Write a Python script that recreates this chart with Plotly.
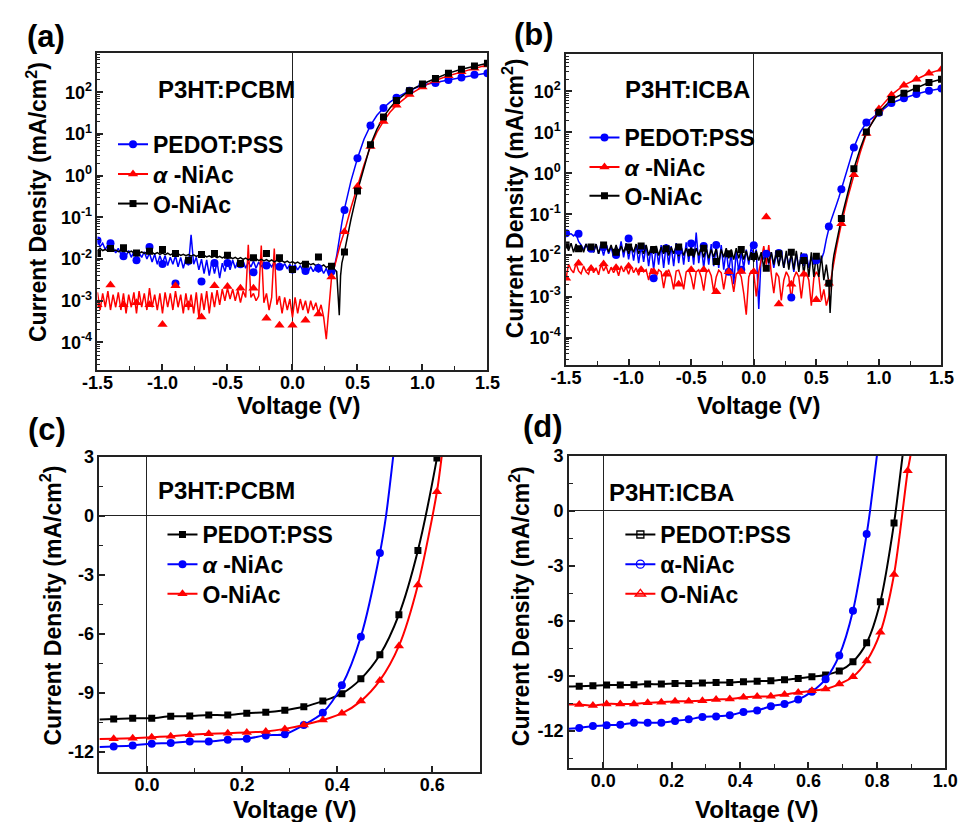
import numpy as np
import plotly.graph_objects as go

FONT = "Liberation Sans, Arial, Helvetica, sans-serif"
BLUE, RED, BLACK = "#0000FF", "#FF0000", "#000000"

# ---------------- (a) P3HT:PCBM dark J-V, log scale ----------------
V_SWEEP_A = np.round(np.arange(-1.50, 0.3001, 0.02), 2)          # 91 sweep points
V_RISE_A = [0.32, 0.34, 0.35, 0.36, 0.37, 0.38, 0.40, 0.45, 0.50, 0.55, 0.60,
            0.65, 0.70, 0.75, 0.80, 0.90, 1.00, 1.10, 1.20, 1.30, 1.40, 1.50]
V_MARK = np.round(np.arange(-1.5, 1.5001, 0.1), 1)                # 31 marker points

A_PEDOT_SWEEP = [0.028, 0.020, 0.024, 0.017, 0.022, 0.016, 0.019, 0.014, 0.018, 0.013,
                 0.016, 0.012, 0.016, 0.011, 0.015, 0.010, 0.014, 0.011, 0.015, 0.010,
                 0.014, 0.0085, 0.013, 0.0075, 0.012, 0.0080, 0.012, 0.0070, 0.011, 0.0075,
                 0.012, 0.0065, 0.011, 0.0060, 0.010, 0.0070, 0.038, 0.0075, 0.011, 0.0055,
                 0.010, 0.0045, 0.0095, 0.0040, 0.0090, 0.0045, 0.0085, 0.0035, 0.0080, 0.0050,
                 0.0090, 0.0055, 0.0095, 0.0060, 0.0090, 0.0065, 0.0090, 0.0060, 0.0085, 0.0065,
                 0.0090, 0.0060, 0.0085, 0.0065, 0.0085, 0.0060, 0.0080, 0.0065, 0.0085, 0.0060,
                 0.0080, 0.0062, 0.0078, 0.0058, 0.0075, 0.0058, 0.0072, 0.0055, 0.0070, 0.0052,
                 0.0068, 0.0050, 0.0066, 0.0050, 0.0065, 0.0048, 0.0062, 0.0045, 0.0060, 0.0040,
                 0.0055]
A_PEDOT_RISE = [0.0060, 0.012, 0.020, 0.032, 0.050, 0.075, 0.16, 0.75, 2.6, 7.5, 16,
                28, 42, 58, 74, 109, 149, 168, 196, 227, 262, 290]
A_PEDOT_MARK = [0.028, 0.024, 0.0117, 0.0093, 0.0195, 0.0076, 0.0026, 0.009, 0.0029, 0.008,
                0.008, 0.0075, 0.0048, 0.007, 0.0065, 0.0056, 0.0052, 0.006, 0.005, 0.15,
                2.6, 16, 42, 74, 109, 149, 166, 196, 227, 262, 287]

A_ALPHA_SWEEP = [0.0016, 0.0006, 0.0015, 0.0007, 0.0017, 0.0006, 0.0014, 0.0007, 0.0016, 0.0006,
                 0.0015, 0.0005, 0.0014, 0.0007, 0.0016, 0.0005, 0.0017, 0.0007, 0.0015, 0.0006,
                 0.0020, 0.0007, 0.0014, 0.0006, 0.0015, 0.0005, 0.0016, 0.0007, 0.0015, 0.0006,
                 0.0017, 0.0007, 0.0014, 0.0005, 0.0015, 0.0006, 0.0014, 0.0005, 0.0016, 0.0004,
                 0.0015, 0.0006, 0.0017, 0.0005, 0.0016, 0.0007, 0.0018, 0.0008, 0.0019, 0.0010,
                 0.0020, 0.0011, 0.0019, 0.0010, 0.0018, 0.0009, 0.0017, 0.0012, 0.022, 0.0012,
                 0.0015, 0.0010, 0.0013, 0.021, 0.0009, 0.0015, 0.0006, 0.0012, 0.018, 0.0008,
                 0.0013, 0.0005, 0.0012, 0.0006, 0.0011, 0.0004, 0.0012, 0.0005, 0.0011, 0.0006,
                 0.0010, 0.0005, 0.0010, 0.0006, 0.0009, 0.0005, 0.0008, 0.0004, 0.00012, 0.0008,
                 0.0035]
A_ALPHA_RISE = [0.006, 0.011, 0.015, 0.019, 0.024, 0.030, 0.045, 0.17, 0.55, 1.8, 5.0,
                11, 20, 33, 49, 88, 134, 192, 250, 312, 374, 449]
A_ALPHA_MARK = [0.0008, 0.0024, 0.0008, 0.0009, 0.0008, 0.00027, 0.0023, 0.0008, 0.00041, 0.0023,
                0.0022, 0.002, 0.002, 0.00038, 0.00026, 0.00026, 0.00034, 0.00048, 0.0037, 0.045,
                0.55, 5.0, 20, 49, 88, 134, 192, 250, 312, 374, 449]

A_ONIAC_SWEEP = [0.016, 0.018, 0.016, 0.017, 0.0155, 0.017, 0.0155, 0.0165, 0.015, 0.016,
                 0.0148, 0.0158, 0.0145, 0.0155, 0.014, 0.015, 0.0138, 0.0148, 0.0136, 0.0146,
                 0.0135, 0.0145, 0.0132, 0.0142, 0.013, 0.014, 0.0128, 0.0138, 0.0126, 0.0135,
                 0.0124, 0.0133, 0.0122, 0.013, 0.012, 0.0128, 0.0118, 0.0126, 0.0116, 0.0124,
                 0.0114, 0.0122, 0.0112, 0.012, 0.011, 0.0118, 0.0108, 0.0116, 0.0106, 0.0114,
                 0.0104, 0.0112, 0.0102, 0.011, 0.010, 0.0108, 0.0098, 0.0106, 0.0096, 0.0104,
                 0.0094, 0.0102, 0.0092, 0.0099, 0.009, 0.0097, 0.0088, 0.0095, 0.0086, 0.0093,
                 0.0085, 0.0091, 0.0083, 0.0089, 0.0081, 0.0087, 0.0079, 0.0085, 0.0077, 0.0083,
                 0.0075, 0.0081, 0.0073, 0.0078, 0.0070, 0.0075, 0.0067, 0.0072, 0.0063, 0.0068,
                 0.0060]
A_ONIAC_RISE = [0.0058, 0.0050, 0.0015, 0.00045, 0.0040, 0.0080, 0.015, 0.09, 0.43, 1.6, 5.5,
                13, 25.6, 42, 63, 109, 158, 214, 287, 357, 428, 495]
A_ONIAC_MARK = [0.0135, 0.0178, 0.0187, 0.014, 0.0153, 0.017, 0.0135, 0.0093, 0.0128, 0.0135,
                0.0123, 0.0078, 0.0107, 0.0135, 0.0108, 0.0056, 0.0075, 0.0112, 0.0067, 0.0148,
                0.43, 5.5, 25.6, 63, 109, 158, 214, 287, 357, 428, 495]

# ---------------- (b) P3HT:ICBA dark J-V, log scale ----------------
V_SWEEP_B = np.round(np.arange(-1.50, 0.5601, 0.02), 2)          # 104 sweep points
V_RISE_B = [0.58, 0.60, 0.61, 0.62, 0.63, 0.64, 0.65, 0.66, 0.68, 0.70,
            0.75, 0.80, 0.85, 0.90, 1.00, 1.10, 1.20, 1.30, 1.40, 1.50]

B_PEDOT_SWEEP = [0.035, 0.033, 0.034, 0.030, 0.034, 0.022, 0.018, 0.014, 0.019, 0.013,
                 0.018, 0.012, 0.019, 0.011, 0.017, 0.010, 0.018, 0.011, 0.016, 0.009,
                 0.017, 0.010, 0.022, 0.009, 0.020, 0.008, 0.018, 0.0075, 0.019, 0.0065,
                 0.017, 0.007, 0.018, 0.0055, 0.016, 0.0045, 0.017, 0.006, 0.018, 0.005,
                 0.019, 0.006, 0.017, 0.0055, 0.020, 0.0065, 0.018, 0.006, 0.021, 0.007,
                 0.019, 0.006, 0.036, 0.0065, 0.018, 0.005, 0.017, 0.006, 0.019, 0.0055,
                 0.016, 0.005, 0.018, 0.0045, 0.014, 0.004, 0.012, 0.002, 0.013, 0.004,
                 0.012, 0.005, 0.014, 0.006, 0.016, 0.0095, 0.014, 0.0005, 0.011, 0.008,
                 0.013, 0.006, 0.012, 0.005, 0.011, 0.006, 0.012, 0.005, 0.011, 0.006,
                 0.010, 0.004, 0.011, 0.005, 0.010, 0.0055, 0.011, 0.005, 0.0095, 0.006,
                 0.009, 0.007, 0.008, 0.012]
B_PEDOT_RISE = [0.025, 0.05, 0.06, 0.075, 0.09, 0.11, 0.14, 0.17, 0.26, 0.41,
                1.4, 4.3, 10, 17.4, 30, 52, 68, 86, 104, 118]
B_PEDOT_MARK = [0.035, 0.034, 0.0147, 0.016, 0.0103, 0.026, 0.016, 0.0028, 0.015, 0.013,
                0.0195, 0.017, 0.018, 0.004, 0.0045, 0.0178, 0.011, 0.0115, 0.00095, 0.009,
                0.0077, 0.051, 0.41, 4.3, 17.4, 30, 52, 68, 86, 104, 118]

B_ALPHA_SWEEP = [0.0028, 0.0062, 0.0045, 0.0038, 0.0065, 0.0042, 0.0036, 0.0055, 0.0040, 0.0035,
                 0.0058, 0.0038, 0.0050, 0.0034, 0.0062, 0.0042, 0.0055, 0.0036, 0.0052, 0.0038,
                 0.0050, 0.0032, 0.0056, 0.0040, 0.0052, 0.0035, 0.0055, 0.0038, 0.0050, 0.0033,
                 0.0052, 0.0040, 0.0045, 0.0025, 0.0048, 0.0042, 0.0030, 0.0045, 0.0040, 0.0016,
                 0.0035, 0.0045, 0.0030, 0.0015, 0.0042, 0.0044, 0.0028, 0.0015, 0.0040, 0.0045,
                 0.0030, 0.0015, 0.0040, 0.0045, 0.0030, 0.0014, 0.0038, 0.0045, 0.0032, 0.0013,
                 0.0030, 0.0044, 0.0038, 0.0015, 0.0035, 0.0045, 0.0030, 0.0013, 0.0035, 0.0040,
                 0.0030, 0.0012, 0.00036, 0.0030, 0.0042, 0.0038, 0.0010, 0.0040, 0.0080, 0.017,
                 0.0060, 0.018, 0.0035, 0.0012, 0.0038, 0.0030, 0.0008, 0.0025, 0.0040, 0.0030,
                 0.0008, 0.0028, 0.0040, 0.0030, 0.0009, 0.0030, 0.0038, 0.0025, 0.0006, 0.0028,
                 0.0040, 0.0030, 0.0008, 0.0015]
B_ALPHA_RISE = [0.0006, 0.001, 0.002, 0.003, 0.005, 0.008, 0.011, 0.015, 0.03, 0.059,
                0.25, 0.93, 3.2, 9.4, 37, 82, 142, 198, 276, 344]
B_ALPHA_MARK = [0.0028, 0.0065, 0.0048, 0.0062, 0.005, 0.0055, 0.0045, 0.004, 0.0035, 0.002,
                0.0045, 0.0045, 0.0013, 0.004, 0.0041, 0.004, 0.087, 0.00066, 0.002, 0.0035,
                0.00083, 0.0021, 0.059, 0.93, 9.4, 37, 82, 142, 198, 276, 344]

B_ONIAC_SWEEP = [0.019, 0.013, 0.020, 0.012, 0.019, 0.013, 0.018, 0.012, 0.019, 0.013,
                 0.018, 0.012, 0.019, 0.011, 0.018, 0.013, 0.019, 0.012, 0.018, 0.011,
                 0.018, 0.011, 0.017, 0.012, 0.018, 0.011, 0.017, 0.012, 0.019, 0.011,
                 0.017, 0.011, 0.018, 0.010, 0.016, 0.011, 0.017, 0.010, 0.016, 0.011,
                 0.017, 0.010, 0.016, 0.011, 0.017, 0.0095, 0.016, 0.010, 0.015, 0.0095,
                 0.016, 0.009, 0.015, 0.010, 0.016, 0.009, 0.015, 0.0085, 0.014, 0.009,
                 0.015, 0.0065, 0.014, 0.009, 0.015, 0.0085, 0.014, 0.008, 0.015, 0.0085,
                 0.014, 0.008, 0.013, 0.0075, 0.012, 0.007, 0.013, 0.0075, 0.012, 0.005,
                 0.013, 0.0065, 0.012, 0.006, 0.013, 0.0055, 0.012, 0.005, 0.013, 0.0045,
                 0.012, 0.0045, 0.013, 0.004, 0.012, 0.0035, 0.011, 0.003, 0.012, 0.003,
                 0.011, 0.003, 0.010, 0.0025]
B_ONIAC_RISE = [0.006, 0.0021, 0.0004, 0.002, 0.006, 0.010, 0.015, 0.020, 0.040, 0.08,
                0.33, 1.3, 4.0, 10.3, 31, 63, 90, 120, 164, 198]
B_ONIAC_MARK = [0.018, 0.0147, 0.016, 0.018, 0.012, 0.016, 0.017, 0.014, 0.0145, 0.016,
                0.012, 0.015, 0.0071, 0.011, 0.014, 0.0095, 0.0049, 0.011, 0.012, 0.0075,
                0.0096, 0.0021, 0.08, 1.3, 10.3, 31, 63, 90, 120, 164, 198]

# ---------------- (c) P3HT:PCBM illuminated J-V ----------------
V_C = [-0.07, -0.03, 0.01, 0.05, 0.09, 0.13, 0.17, 0.21, 0.25, 0.29,
       0.33, 0.37, 0.41, 0.45, 0.49, 0.53, 0.57, 0.61]
C_PEDOT = [-10.33, -10.29, -10.29, -10.19, -10.18, -10.13, -10.13, -10.03, -9.99, -9.88,
           -9.71, -9.42, -9.04, -8.29, -7.07, -5.03, -1.77, 2.92]
C_ALPHA = [-11.72, -11.67, -11.58, -11.55, -11.47, -11.47, -11.38, -11.33, -11.16, -11.10,
           -10.63, -10.01, -8.62, -6.15, -1.90]
C_ONIAC = [-11.33, -11.30, -11.26, -11.21, -11.13, -11.08, -11.05, -11.01, -10.96, -10.83,
           -10.63, -10.38, -10.04, -9.42, -8.37, -6.62, -3.52, 1.21]
# curve ends beyond the marked points (left edge and above the top)
C_PEDOT_START, C_PEDOT_END_V, C_PEDOT_END_J = -10.35, [0.62], [4.4]
C_ALPHA_START, C_ALPHA_END_V, C_ALPHA_END_J = -11.75, [0.503, 0.518, 0.53], [0.0, 3.0, 5.5]
C_ONIAC_START, C_ONIAC_END_V, C_ONIAC_END_J = -11.35, [0.62, 0.63], [3.0, 5.2]

# ---------------- (d) P3HT:ICBA illuminated J-V ----------------
V_D = [-0.07, -0.03, 0.01, 0.05, 0.09, 0.13, 0.17, 0.21, 0.25, 0.29, 0.33, 0.37, 0.41,
       0.45, 0.49, 0.53, 0.57, 0.61, 0.65, 0.69, 0.73, 0.77, 0.81, 0.85, 0.89]
D_PEDOT = [-9.57, -9.54, -9.50, -9.50, -9.48, -9.45, -9.45, -9.41, -9.41, -9.39, -9.36, -9.36,
           -9.32, -9.29, -9.27, -9.21, -9.14, -9.05, -8.95, -8.73, -8.23, -7.20, -4.96, -0.68]
D_ALPHA = [-11.84, -11.73, -11.69, -11.66, -11.55, -11.55, -11.55, -11.46, -11.37, -11.24, -11.21,
           -11.15, -10.97, -10.89, -10.65, -10.53, -10.29, -9.86, -9.18, -7.89, -5.46, -1.28]
D_ONIAC = [-10.56, -10.62, -10.53, -10.53, -10.53, -10.47, -10.44, -10.38, -10.38, -10.35, -10.29,
           -10.26, -10.17, -10.13, -10.11, -10.02, -9.90, -9.81, -9.72, -9.45, -9.05, -8.19,
           -6.63, -3.48, 2.17]
D_PEDOT_START, D_PEDOT_END_V, D_PEDOT_END_J = -9.58, [0.875, 0.885], [3.0, 4.5]
D_ALPHA_START, D_ALPHA_END_V, D_ALPHA_END_J = -11.88, [0.78, 0.80, 0.81], [0.0, 3.0, 4.6]
D_ONIAC_START, D_ONIAC_END_V, D_ONIAC_END_J = -10.56, [0.898, 0.905], [3.0, 4.3]

LOG_TICKS = [1e-4, 1e-3, 1e-2, 1e-1, 1, 10, 100]
LOG_TICKTEXT = ["10<sup>-4</sup>", "10<sup>-3</sup>", "10<sup>-2</sup>", "10<sup>-1</sup>",
                "10<sup>0</sup>", "10<sup>1</sup>", "10<sup>2</sup>"]

# legend rows: (label, colour, symbol, size, open marker)
ALPHA_IT = "<i>α</i> -NiAc"
LEGEND_ROWS = [
    ("PEDOT:PSS", BLUE, "circle", 8, False), (ALPHA_IT, RED, "triangle-up", 9, False),
    ("O-NiAc", BLACK, "square", 7, False),                                   # (a)
    ("PEDOT:PSS", BLUE, "circle", 8, False), (ALPHA_IT, RED, "triangle-up", 9, False),
    ("O-NiAc", BLACK, "square", 7, False),                                   # (b)
    ("PEDOT:PSS", BLACK, "square", 7, False), (ALPHA_IT, BLUE, "circle", 8, False),
    ("O-NiAc", RED, "triangle-up", 9, False),                                # (c)
    ("PEDOT:PSS", BLACK, "square-open", 7, True), ("α-NiAc", BLUE, "circle-open", 8, True),
    ("O-NiAc", RED, "triangle-up-open", 9, True),                            # (d)
]
# legend row anchor (left x, centre y) in pixels
LEGEND_POS = [(100, 136), (100, 166), (100, 196),
              (586, 129), (586, 159), (586, 188),
              (151, 531), (151, 561), (151, 591),
              (623, 531), (623, 561), (623, 591)]

# ================= figure =================
fig = go.Figure()


def add_line(x, y, color, xa, ya, width=1.5, shape="linear"):
    fig.add_trace(go.Scatter(x=list(x), y=list(y), mode="lines", xaxis=xa, yaxis=ya,
                             line=dict(color=color, width=width, shape=shape, smoothing=0.8),
                             showlegend=False, hoverinfo="skip"))


def add_markers(x, y, color, symbol, size, xa, ya):
    fig.add_trace(go.Scatter(x=list(x), y=list(y), mode="markers", xaxis=xa, yaxis=ya,
                             marker=dict(color=color, symbol=symbol, size=size,
                                         line=dict(width=0)),
                             showlegend=False, hoverinfo="skip"))


# (a)
va = list(V_SWEEP_A) + V_RISE_A
add_line(va, A_PEDOT_SWEEP + A_PEDOT_RISE, BLUE, "x", "y")
add_line(va, A_ALPHA_SWEEP + A_ALPHA_RISE, RED, "x", "y")
add_line(va, A_ONIAC_SWEEP + A_ONIAC_RISE, BLACK, "x", "y")
add_markers(V_MARK, A_PEDOT_MARK, BLUE, "circle", 8, "x", "y")
add_markers(V_MARK, A_ALPHA_MARK, RED, "triangle-up", 9, "x", "y")
add_markers(V_MARK, A_ONIAC_MARK, BLACK, "square", 7, "x", "y")

# (b)
vb = list(V_SWEEP_B) + V_RISE_B
add_line(vb, B_PEDOT_SWEEP + B_PEDOT_RISE, BLUE, "x2", "y2")
add_line(vb, B_ALPHA_SWEEP + B_ALPHA_RISE, RED, "x2", "y2")
add_line(vb, B_ONIAC_SWEEP + B_ONIAC_RISE, BLACK, "x2", "y2")
add_markers(V_MARK, B_PEDOT_MARK, BLUE, "circle", 8, "x2", "y2")
add_markers(V_MARK, B_ALPHA_MARK, RED, "triangle-up", 9, "x2", "y2")
add_markers(V_MARK, B_ONIAC_MARK, BLACK, "square", 7, "x2", "y2")

# (c)
for vals, start, ev, ej, color, sym, size in [
        (C_PEDOT, C_PEDOT_START, C_PEDOT_END_V, C_PEDOT_END_J, BLACK, "square", 7),
        (C_ALPHA, C_ALPHA_START, C_ALPHA_END_V, C_ALPHA_END_J, BLUE, "circle", 8),
        (C_ONIAC, C_ONIAC_START, C_ONIAC_END_V, C_ONIAC_END_J, RED, "triangle-up", 9)]:
    vx = V_C[:len(vals)]
    add_line([-0.1] + vx + ev, [start] + vals + ej, color, "x3", "y3", 2, "spline")
    add_markers(vx, vals, color, sym, size, "x3", "y3")

# (d)
for vals, start, ev, ej, color, sym, size in [
        (D_PEDOT, D_PEDOT_START, D_PEDOT_END_V, D_PEDOT_END_J, BLACK, "square", 7),
        (D_ALPHA, D_ALPHA_START, D_ALPHA_END_V, D_ALPHA_END_J, BLUE, "circle", 8),
        (D_ONIAC, D_ONIAC_START, D_ONIAC_END_V, D_ONIAC_END_J, RED, "triangle-up", 9)]:
    vx = V_D[:len(vals)]
    add_line([-0.1] + vx + ev, [start] + vals + ej, color, "x4", "y4", 2, "spline")
    add_markers(vx, vals, color, sym, size, "x4", "y4")

# legend entries (legend-only traces, one legend per row)
for i, (name, color, sym, size, is_open) in enumerate(LEGEND_ROWS):
    lid = "legend" if i == 0 else f"legend{i + 1}"
    mk = dict(color=color, symbol=sym, size=size)
    if is_open:
        mk["line"] = dict(color=color, width=1.3)
    fig.add_trace(go.Scatter(x=[None], y=[None], mode="lines+markers", name=name,
                             line=dict(color=color, width=2), marker=mk, legend=lid))

# ================= axes =================
W, H = 970, 822
TICKFONT = dict(family=FONT, size=18, color="black", weight="bold")


def base_axis(**kw):
    d = dict(showline=True, linecolor="#222", linewidth=1.5, mirror=True,
             ticks="inside", ticklen=6, tickwidth=1.5, tickcolor="#222",
             showgrid=False, zeroline=False, tickfont=TICKFONT, fixedrange=True)
    d.update(kw)
    return d


def dom_x(x0, x1):
    return [x0 / W, x1 / W]


def dom_y(top, bottom):
    return [1 - bottom / H, 1 - top / H]


minor_log = [k * 10.0 ** n for n in range(-5, 3) for k in range(2, 10)]
minor_log = [v for v in minor_log if 2.2e-5 < v < 850]

XV = [-1.5, -1.0, -0.5, 0.0, 0.5, 1.0, 1.5]
XT = ["-1.5", "-1.0", "-0.5", "0.0", "0.5", "1.0", "1.5"]
XMIN = [-1.25, -0.75, -0.25, 0.25, 0.75, 1.25]

ZL = dict(zeroline=True, zerolinecolor="#222", zerolinewidth=1)
XS = dict(ticklabelstandoff=-4)


def minor(vals, ln=4, w=1.2):
    return dict(tickmode="array", tickvals=vals, ticks="inside", ticklen=ln,
                tickwidth=w, tickcolor="#222", showgrid=False)


layout = dict(
    width=W, height=H, margin=dict(l=0, r=0, t=0, b=0), autosize=False,
    paper_bgcolor="white", plot_bgcolor="white",
    font=dict(family=FONT, color="black"),
    xaxis=base_axis(domain=dom_x(84, 486), anchor="y", range=[-1.5, 1.5],
                    tickmode="array", tickvals=XV, ticktext=XT, minor=minor(XMIN), **ZL, **XS),
    yaxis=base_axis(domain=dom_y(44, 364), anchor="x", type="log", range=[-4.65, 2.93],
                    tickmode="array", tickvals=LOG_TICKS, ticktext=LOG_TICKTEXT,
                    minor=minor(minor_log, 3, 1)),
    xaxis2=base_axis(domain=dom_x(567, 954), anchor="y2", range=[-1.5, 1.5],
                     tickmode="array", tickvals=XV, ticktext=XT, minor=minor(XMIN), **ZL, **XS),
    yaxis2=base_axis(domain=dom_y(45, 359), anchor="x2", type="log", range=[-4.66, 2.9],
                     tickmode="array", tickvals=LOG_TICKS, ticktext=LOG_TICKTEXT,
                     minor=minor(minor_log, 3, 1)),
    xaxis3=base_axis(domain=dom_x(86, 478), anchor="y3", range=[-0.1, 0.7],
                     tickmode="array", tickvals=[0, 0.2, 0.4, 0.6],
                     ticktext=["0.0", "0.2", "0.4", "0.6"],
                     minor=minor([0.1, 0.3, 0.5]), **ZL, **XS),
    yaxis3=base_axis(domain=dom_y(452, 771), anchor="x3", range=[-13, 3],
                     tickmode="array", tickvals=[3, 0, -3, -6, -9, -12],
                     ticktext=["3", "0", "-3", "-6", "-9", "-12"],
                     minor=minor([1.5, -1.5, -4.5, -7.5, -10.5]), **ZL),
    xaxis4=base_axis(domain=dom_x(570, 958), anchor="y4", range=[-0.1, 1.0],
                     tickmode="array", tickvals=[0, 0.2, 0.4, 0.6, 0.8, 1.0],
                     ticktext=["0.0", "0.2", "0.4", "0.6", "0.8", "1.0"],
                     minor=minor([0.1, 0.3, 0.5, 0.7, 0.9]), **ZL, **XS),
    yaxis4=base_axis(domain=dom_y(451, 767), anchor="x4", range=[-14, 3],
                     tickmode="array", tickvals=[3, 0, -3, -6, -9, -12],
                     ticktext=["3", "0", "-3", "-6", "-9", "-12"],
                     minor=minor([1.5, -1.5, -4.5, -7.5, -10.5, -13.5]), **ZL),
)

LEGFONT = dict(family=FONT, size=23, color="black", weight="bold")
for i, (lx, ly) in enumerate(LEGEND_POS):
    lid = "legend" if i == 0 else f"legend{i + 1}"
    layout[lid] = dict(x=lx / W, y=1 - ly / H, xanchor="left", yanchor="middle",
                       bgcolor="rgba(0,0,0,0)", borderwidth=0, font=LEGFONT,
                       itemclick=False, itemdoubleclick=False)

fig.update_layout(**layout)


def ann(text, xpx, ypx, size, angle=0):
    fig.add_annotation(text=text, x=xpx / W, y=1 - ypx / H, xref="paper", yref="paper",
                       xanchor="center", yanchor="middle", showarrow=False, textangle=angle,
                       font=dict(family=FONT, size=size, color="black", weight="bold"))


# panel labels
ann("(a)", 31, 27, 31)
ann("(b)", 534, 25, 31)
ann("(c)", 32, 425, 31)
ann("(d)", 543, 422, 31)
# sample labels
ann("P3HT:PCBM", 217, 80, 24)
ann("P3HT:ICBA", 692, 80, 24)
ann("P3HT:PCBM", 217, 486, 24)
ann("P3HT:ICBA", 676, 488, 24)
# axis titles
YT = "Current Density (mA/cm<sup>2</sup>)"
ann(YT, 21, 194, 23, -90)
ann(YT, 512, 191, 23, -90)
ann(YT, 36, 603, 23, -90)
ann(YT, 519, 603, 23, -90)
ann("Voltage (V)", 292, 400, 24)
ann("Voltage (V)", 766, 400, 24)
ann("Voltage (V)", 288, 809, 24)
ann("Voltage (V)", 764, 809, 24)

fig.write_html("out.html")
